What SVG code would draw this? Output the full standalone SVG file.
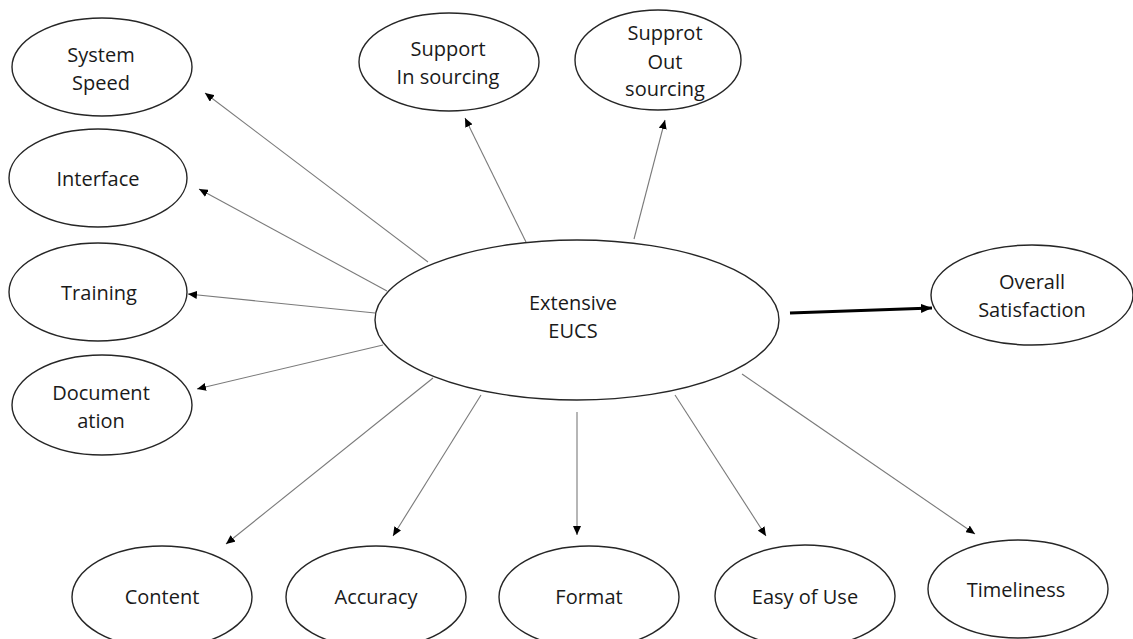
<svg xmlns="http://www.w3.org/2000/svg" width="1133" height="639" viewBox="0 0 1133 639">
  <style>
    .node ellipse { fill: #ffffff; stroke: #262626; stroke-width: 1.4; }
    .node text { font-family: "Open Sans", "Noto Sans", sans-serif; font-size: 20px; fill: #1a1a1a; text-anchor: middle; }
    .link { stroke: #7a7a7a; stroke-width: 1.1; fill: none; marker-end: url(#tip); }
    .main-link { stroke: #000000; stroke-width: 3; fill: none; marker-end: url(#tip-bold); }
  </style>
  <defs>
    <marker id="tip" markerUnits="userSpaceOnUse" markerWidth="9" markerHeight="8" refX="9" refY="4" orient="auto">
      <path d="M0,0 L9,4 L0,8 z" fill="#000000"/>
    </marker>
    <marker id="tip-bold" markerUnits="userSpaceOnUse" markerWidth="11" markerHeight="9" refX="11" refY="4.5" orient="auto">
      <path d="M0,0 L11,4.5 L0,9 z" fill="#000000"/>
    </marker>
  </defs>
  <rect width="1133" height="639" fill="#ffffff"/>

  <!-- connectors from the central construct -->
  <g id="connectors">
    <line class="link" x1="428" y1="262" x2="205" y2="93"/>
    <line class="link" x1="387" y1="291" x2="199" y2="189"/>
    <line class="link" x1="375" y1="313" x2="188" y2="294"/>
    <line class="link" x1="383" y1="345" x2="197" y2="389"/>
    <line class="link" x1="526" y1="242" x2="465" y2="118"/>
    <line class="link" x1="634" y1="239" x2="665" y2="120"/>
    <line class="link" x1="433" y1="378" x2="226" y2="544"/>
    <line class="link" x1="481" y1="395" x2="393" y2="536"/>
    <line class="link" x1="577" y1="412" x2="577" y2="535"/>
    <line class="link" x1="675" y1="395" x2="766" y2="536"/>
    <line class="link" x1="742" y1="374" x2="975" y2="534"/>
    <line class="main-link" x1="790" y1="313" x2="932" y2="308"/>
  </g>

  <g id="system-speed" class="node">
    <ellipse cx="102" cy="67" rx="90" ry="49"/>
    <text x="101" y="62">System</text>
    <text x="101" y="90">Speed</text>
  </g>
  <g id="interface" class="node">
    <ellipse cx="98" cy="178" rx="89" ry="49"/>
    <text x="98" y="186">Interface</text>
  </g>
  <g id="training" class="node">
    <ellipse cx="98" cy="292" rx="89" ry="49"/>
    <text x="99" y="300">Training</text>
  </g>
  <g id="documentation" class="node">
    <ellipse cx="102" cy="405" rx="90" ry="50"/>
    <text x="101" y="400">Document</text>
    <text x="101" y="428">ation</text>
  </g>
  <g id="support-insourcing" class="node">
    <ellipse cx="449" cy="62" rx="90" ry="49"/>
    <text x="448" y="56">Support</text>
    <text x="448" y="84">In sourcing</text>
  </g>
  <g id="support-outsourcing" class="node">
    <ellipse cx="658" cy="60" rx="83" ry="50"/>
    <text x="665" y="40">Supprot</text>
    <text x="665" y="69">Out</text>
    <text x="665" y="96">sourcing</text>
  </g>
  <g id="extensive-eucs" class="node">
    <ellipse cx="577" cy="320" rx="202" ry="80"/>
    <text x="573" y="310">Extensive</text>
    <text x="573" y="338">EUCS</text>
  </g>
  <g id="overall-satisfaction" class="node">
    <ellipse cx="1032" cy="295" rx="101" ry="50"/>
    <text x="1032" y="289">Overall</text>
    <text x="1032" y="317">Satisfaction</text>
  </g>
  <g id="content" class="node">
    <ellipse cx="162" cy="597" rx="90" ry="51"/>
    <text x="162" y="604">Content</text>
  </g>
  <g id="accuracy" class="node">
    <ellipse cx="376" cy="597" rx="90" ry="51"/>
    <text x="376" y="604">Accuracy</text>
  </g>
  <g id="format" class="node">
    <ellipse cx="589" cy="597" rx="90" ry="51"/>
    <text x="589" y="604">Format</text>
  </g>
  <g id="ease-of-use" class="node">
    <ellipse cx="805" cy="596" rx="90" ry="51"/>
    <text x="805" y="604">Easy of Use</text>
  </g>
  <g id="timeliness" class="node">
    <ellipse cx="1018" cy="589" rx="90" ry="49"/>
    <text x="1016" y="597">Timeliness</text>
  </g>
</svg>
